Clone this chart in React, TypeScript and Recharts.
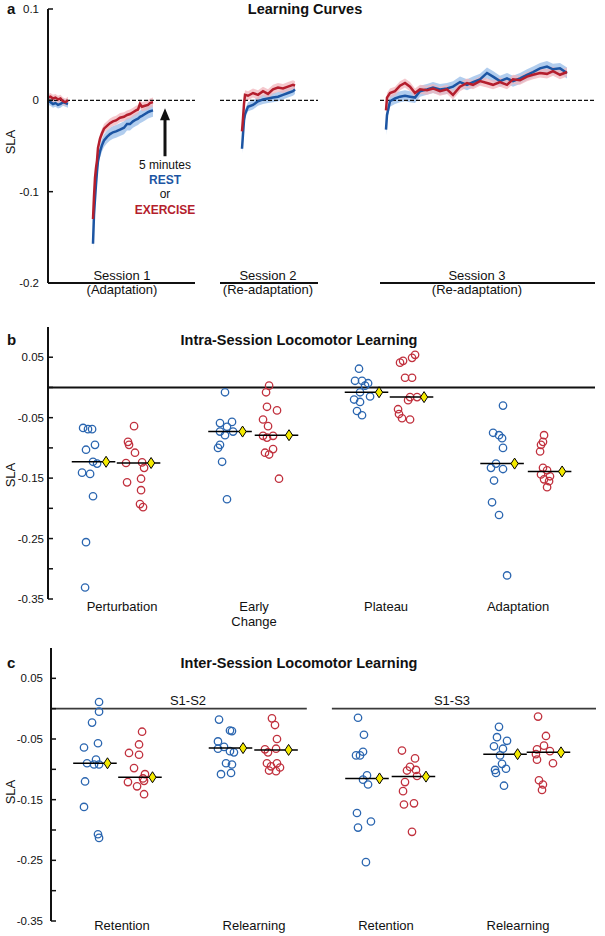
import React from 'react'
import {
  ComposedChart,
  ScatterChart,
  Scatter,
  Line,
  Area,
  XAxis,
  YAxis,
  ReferenceLine,
  ReferenceDot,
} from 'recharts'

const FONT = '"Liberation Sans", Arial, Helvetica, sans-serif'
const INK = '#111'
const REST = '#2b66b0'
const EXERCISE = '#c1313e'
const REST_LINE = '#1c55a3'
const EXERCISE_LINE = '#b41e2d'
const REST_BAND = '#a9c8ec'
const EXERCISE_BAND = '#f2b5bc'

type Pt = [number, number]

// ---------- panel a: learning curves (x = stride, y = SLA)
const s1BaseStrides = [0, 5, 10, 15, 20, 25, 30, 35, 40]
const s1BaseRest = [-0.001, -0.002, -0.004, -0.003, -0.005, -0.004, -0.002, -0.003, -0.004]
const s1BaseExercise = [0.003, 0.004, 0.002, 0.003, 0.001, 0.002, -0.001, -0.002, 0.0]

const s1AdaptStrides = [90, 92, 94, 96, 98, 100, 104, 108, 112, 118, 124, 130, 136, 144, 152, 158, 164, 170, 176, 180, 184, 188, 194, 200, 204, 210]
const s1AdaptRest = [-0.157, -0.125, -0.108, -0.092, -0.078, -0.066, -0.056, -0.049, -0.044, -0.04, -0.037, -0.035, -0.034, -0.032, -0.03, -0.026, -0.026, -0.023, -0.021, -0.02, -0.018, -0.017, -0.015, -0.013, -0.012, -0.011]
const s1AdaptExercise = [-0.13, -0.105, -0.085, -0.074, -0.066, -0.052, -0.042, -0.036, -0.031, -0.028, -0.025, -0.023, -0.022, -0.019, -0.018, -0.016, -0.015, -0.013, -0.011, -0.01, -0.004, -0.007, -0.006, -0.005, -0.003, -0.002]

const s2Strides = [388, 390, 392, 394, 400, 410, 420, 430, 440, 450, 460, 470, 480, 490, 494]
const s2Rest = [-0.053, -0.037, -0.022, -0.015, -0.007, -0.005, -0.001, 0.001, 0.002, 0.003, 0.004, 0.006, 0.008, 0.01, 0.012]
const s2Exercise = [-0.034, -0.02, -0.004, 0.006, 0.005, 0.008, 0.006, 0.01, 0.007, 0.012, 0.014, 0.013, 0.015, 0.017, 0.016]

const s3Strides = [676, 678, 684, 694, 704, 714, 724, 734, 744, 758, 770, 784, 798, 810, 824, 838, 850, 864, 878, 890, 904, 918, 930, 944, 958, 970, 984, 998, 1010, 1024, 1038]
const s3Rest = [-0.032, -0.016, -0.001, 0.002, 0.004, 0.005, 0.004, 0.003, 0.01, 0.012, 0.014, 0.012, 0.013, 0.015, 0.02, 0.017, 0.02, 0.023, 0.03, 0.026, 0.021, 0.024, 0.021, 0.024, 0.028, 0.031, 0.035, 0.037, 0.034, 0.035, 0.03]
const s3Exercise = [-0.011, 0.003, 0.008, 0.01, 0.016, 0.019, 0.015, 0.008, 0.012, 0.011, 0.013, 0.01, 0.012, 0.006, 0.015, 0.019, 0.017, 0.021, 0.019, 0.017, 0.02, 0.017, 0.023, 0.022, 0.026, 0.028, 0.03, 0.029, 0.032, 0.028, 0.031]

// standard error per chunk (baseline, session 1, session 2, session 3)
const restSE = [0.004, 0.007, 0.005, 0.006]
const exerciseSE = [0.004, 0.005, 0.005, 0.005]

const curveTicks = [0.1, 0, -0.1, -0.2]
const sessionSpans: [number, number][] = [[0, 294], [344, 540], [664, 1094]]
const sessionNames = ['Session 1', 'Session 2', 'Session 3']
const sessionPhases = ['(Adaptation)', '(Re-adaptation)', '(Re-adaptation)']
const sessionLabelX = [148, 440, 858]
const breakStride = 234

// ---------- panel b: intra-session learning (x = category + jitter)
const intraCategories = ['Perturbation', 'Early\nChange', 'Plateau', 'Adaptation']
const perturbationRest: Pt[] = [[-0.295, -0.067], [-0.258, -0.069], [-0.227, -0.069], [-0.205, -0.095], [-0.273, -0.103], [-0.22, -0.123], [-0.189, -0.126], [-0.303, -0.141], [-0.242, -0.143], [-0.22, -0.18], [-0.273, -0.256], [-0.28, -0.331]]
const perturbationExercise: Pt[] = [[0.091, -0.064], [0.045, -0.09], [0.053, -0.095], [0.098, -0.108], [0.03, -0.125], [0.152, -0.124], [0.167, -0.133], [0.038, -0.157], [0.144, -0.151], [0.144, -0.17], [0.136, -0.193], [0.159, -0.198]]
const earlyChangeRest: Pt[] = [[0.78, -0.008], [0.742, -0.059], [0.833, -0.057], [0.795, -0.065], [0.841, -0.073], [0.742, -0.073], [0.78, -0.079], [0.742, -0.095], [0.727, -0.1], [0.758, -0.123], [0.795, -0.185]]
const earlyChangeExercise: Pt[] = [[1.114, 0.003], [1.091, -0.008], [1.098, -0.032], [1.174, -0.038], [1.068, -0.053], [1.106, -0.064], [1.068, -0.08], [1.144, -0.08], [1.098, -0.083], [1.083, -0.108], [1.144, -0.102], [1.114, -0.111], [1.189, -0.151]]
const plateauRest: Pt[] = [[1.795, 0.031], [1.765, 0.011], [1.818, 0.011], [1.864, 0.007], [1.841, 0.003], [1.803, -0.008], [1.879, -0.015], [1.758, -0.02], [1.803, -0.024], [1.78, -0.039], [1.818, -0.046]]
const plateauExercise: Pt[] = [[2.22, 0.054], [2.197, 0.049], [2.106, 0.041], [2.129, 0.044], [2.144, 0.016], [2.197, 0.016], [2.182, -0.016], [2.235, -0.016], [2.167, -0.021], [2.091, -0.036], [2.098, -0.044], [2.182, -0.053], [2.121, -0.051]]
const adaptationRest: Pt[] = [[2.886, -0.03], [2.811, -0.075], [2.856, -0.079], [2.879, -0.084], [2.886, -0.1], [2.833, -0.126], [2.795, -0.133], [2.886, -0.135], [2.818, -0.154], [2.803, -0.19], [2.856, -0.211], [2.917, -0.311]]
const adaptationExercise: Pt[] = [[3.197, -0.079], [3.174, -0.095], [3.189, -0.09], [3.167, -0.106], [3.189, -0.133], [3.22, -0.137], [3.174, -0.144], [3.242, -0.147], [3.197, -0.152], [3.235, -0.155], [3.22, -0.165]]
const intraRestMean = [-0.123, -0.073, -0.008, -0.126]
const intraExerciseMean = [-0.125, -0.079, -0.016, -0.139]
const intraRestCenter = [-0.216, 0.818, 1.852, 2.879]
const intraExerciseCenter = [0.125, 1.17, 2.193, 3.239]

// ---------- panel c: inter-session learning
const interCategories = ['Retention', 'Relearning', 'Retention', 'Relearning']
const retention12Rest: Pt[] = [[-0.174, 0.011], [-0.174, -0.005], [-0.227, -0.023], [-0.182, -0.057], [-0.288, -0.064], [-0.197, -0.084], [-0.265, -0.09], [-0.212, -0.092], [-0.174, -0.092], [-0.28, -0.12], [-0.288, -0.162], [-0.182, -0.207], [-0.174, -0.213]]
const retention12Exercise: Pt[] = [[0.152, -0.038], [0.129, -0.059], [0.053, -0.073], [0.129, -0.076], [0.091, -0.098], [0.174, -0.108], [0.159, -0.115], [0.045, -0.121], [0.167, -0.119], [0.114, -0.128], [0.167, -0.141]]
const relearning12Rest: Pt[] = [[0.735, -0.018], [0.818, -0.036], [0.833, -0.037], [0.727, -0.054], [0.773, -0.063], [0.727, -0.066], [0.818, -0.07], [0.848, -0.072], [0.788, -0.09], [0.833, -0.092], [0.75, -0.108], [0.826, -0.106]]
const relearning12Exercise: Pt[] = [[1.136, -0.016], [1.159, -0.027], [1.174, -0.05], [1.083, -0.067], [1.167, -0.066], [1.106, -0.072], [1.098, -0.09], [1.174, -0.09], [1.129, -0.095], [1.197, -0.097], [1.114, -0.102], [1.167, -0.103]]
const retention13Rest: Pt[] = [[1.788, -0.015], [1.833, -0.043], [1.826, -0.071], [1.773, -0.077], [1.803, -0.077], [1.856, -0.11], [1.826, -0.117], [1.864, -0.125], [1.78, -0.172], [1.886, -0.186], [1.788, -0.196], [1.848, -0.253]]
const retention13Exercise: Pt[] = [[2.121, -0.069], [2.22, -0.082], [2.182, -0.096], [2.227, -0.101], [2.159, -0.102], [2.235, -0.111], [2.144, -0.121], [2.129, -0.136], [2.136, -0.158], [2.212, -0.156], [2.197, -0.203]]
const relearning13Rest: Pt[] = [[2.856, -0.03], [2.841, -0.047], [2.917, -0.053], [2.818, -0.062], [2.886, -0.066], [2.864, -0.077], [2.879, -0.091], [2.909, -0.099], [2.826, -0.101], [2.833, -0.106], [2.894, -0.127]]
const relearning13Exercise: Pt[] = [[3.152, -0.013], [3.212, -0.045], [3.197, -0.061], [3.144, -0.067], [3.242, -0.07], [3.136, -0.075], [3.144, -0.084], [3.265, -0.09], [3.159, -0.118], [3.189, -0.125], [3.182, -0.134]]
const interRestMean = [-0.09, -0.065, -0.115, -0.075]
const interExerciseMean = [-0.113, -0.068, -0.112, -0.072]
const interRestCenter = [-0.205, 0.822, 1.856, 2.902]
const interExerciseCenter = [0.136, 1.167, 2.208, 3.231]
const pairNames = ['S1-S2', 'S1-S3']
const pairLabelX = [0.5, 2.5]
const pairSpans: [number, number][] = [[-0.538, 1.4], [1.59, 3.591]]

const slaTicks = [0.05, 0, -0.05, -0.1, -0.15, -0.2, -0.25, -0.3, -0.35]
const slaLabeled = [0.05, -0.05, -0.15, -0.25, -0.35]

const MEAN_HALF = 0.165
const DIAMOND_SHIFT = 0.095

function curve(strides: number[], values: number[], se: number) {
  return strides.map((x, i) => ({ x, v: values[i], band: [values[i] - se, values[i] + se] }))
}

const yTick = (labeled: number[], gap: number, digits: number) => (props: any) => {
  const { x, y, payload } = props
  const v = payload.value as number
  const ax = x + gap
  const show = labeled.some((l) => Math.abs(l - v) < 1e-9)
  return (
    <g>
      <line x1={ax} x2={ax + 5} y1={y} y2={y} stroke={INK} strokeWidth={1.5} />
      {show && (
        <text x={x} y={y + 4} textAnchor="end" fontFamily={FONT} fontSize={11.5} fill={INK}>
          {v === 0 ? '0' : v.toFixed(digits)}
        </text>
      )}
    </g>
  )
}

const catTick = (labels: string[], dy: number) => (props: any) => {
  const { x, y, payload } = props
  const lines = (labels[payload.value] || '').split('\n')
  return (
    <text x={x} y={y + dy} textAnchor="middle" fontFamily={FONT} fontSize={13} fill={INK}>
      {lines.map((l, i) => (
        <tspan key={i} x={x} dy={i === 0 ? 0 : 15}>
          {l}
        </tspan>
      ))}
    </text>
  )
}

const ring = (color: string) => (p: any) => (
  <circle cx={p.cx} cy={p.cy} r={3.7} fill="none" stroke={color} strokeWidth={1.3} />
)
const diamond = (p: any) => (
  <polygon
    points={`${p.cx},${p.cy - 5.5} ${p.cx + 3.6},${p.cy} ${p.cx},${p.cy + 5.5} ${p.cx - 3.6},${p.cy}`}
    fill="#f4ea00"
    stroke="#000"
    strokeWidth={1}
  />
)
const noShape = () => <g />

function groupMarks(key: string, pts: Pt[], mean: number, center: number, color: string) {
  return [
    <Scatter key={key + 'd'} data={pts.map(([x, y]) => ({ x, y }))} shape={ring(color)} isAnimationActive={false} />,
    <Scatter
      key={key + 'm'}
      data={[{ x: center - MEAN_HALF, y: mean }, { x: center + MEAN_HALF, y: mean }]}
      line={{ stroke: '#000', strokeWidth: 1.5 }}
      shape={noShape}
      isAnimationActive={false}
    />,
    <Scatter key={key + 'y'} data={[{ x: center + DIAMOND_SHIFT, y: mean }]} shape={diamond} isAnimationActive={false} />,
  ]
}

const sessionLabel = (top: string, bottom: string) => (props: any) => {
  const { viewBox } = props
  const cx = viewBox.x + viewBox.width / 2
  const cy = viewBox.y + viewBox.height / 2
  return (
    <g fontFamily={FONT} fontSize={13} fill={INK}>
      <text x={cx} y={cy - 3} textAnchor="middle">{top}</text>
      <text x={cx} y={cy + 11} textAnchor="middle">{bottom}</text>
    </g>
  )
}

const arrowHead = (props: any) => {
  const { viewBox } = props
  const cx = viewBox.x + viewBox.width / 2
  const cy = viewBox.y + viewBox.height / 2
  return <polygon points={`${cx},${cy - 11} ${cx + 5},${cy + 1} ${cx - 5},${cy + 1}`} fill={INK} />
}

const breakNote = (props: any) => {
  const { viewBox } = props
  const cx = viewBox.x + viewBox.width / 2
  const cy = viewBox.y + viewBox.height / 2
  return (
    <g fontFamily={FONT} fontSize={12}>
      <text x={cx} y={cy + 13} textAnchor="middle" fill={INK}>5 minutes</text>
      <text x={cx} y={cy + 28} textAnchor="middle" fill={REST_LINE} fontWeight="bold">REST</text>
      <text x={cx} y={cy + 42} textAnchor="middle" fill={INK}>or</text>
      <text x={cx} y={cy + 58} textAnchor="middle" fill={EXERCISE_LINE} fontWeight="bold">EXERCISE</text>
    </g>
  )
}

const pairLabel = (name: string) => (props: any) => {
  const { viewBox } = props
  const cx = viewBox.x + viewBox.width / 2
  const cy = viewBox.y + viewBox.height / 2
  return (
    <text x={cx} y={cy - 4} textAnchor="middle" fontFamily={FONT} fontSize={13} fill={INK}>
      {name}
    </text>
  )
}

function LearningCurves() {
  const rest = [
    curve(s1BaseStrides, s1BaseRest, restSE[0]),
    curve(s1AdaptStrides, s1AdaptRest, restSE[1]),
    curve(s2Strides, s2Rest, restSE[2]),
    curve(s3Strides, s3Rest, restSE[3]),
  ]
  const exercise = [
    curve(s1BaseStrides, s1BaseExercise, exerciseSE[0]),
    curve(s1AdaptStrides, s1AdaptExercise, exerciseSE[1]),
    curve(s2Strides, s2Exercise, exerciseSE[2]),
    curve(s3Strides, s3Exercise, exerciseSE[3]),
  ]
  return (
    <ComposedChart width={605} height={300} margin={{ top: 9, right: 10, bottom: 17, left: 0 }}>
      <XAxis type="number" dataKey="x" domain={[0, 1094]} hide allowDataOverflow />
      <YAxis
        type="number"
        domain={[-0.2, 0.1]}
        ticks={curveTicks}
        interval={0}
        width={48}
        tickSize={0}
        tickMargin={9}
        tickLine={false}
        axisLine={{ stroke: INK, strokeWidth: 2 }}
        tick={yTick(curveTicks, 9, 1)}
        allowDataOverflow
      />
      {sessionSpans.map(([a, b], i) => (
        <ReferenceLine
          key={'zero' + i}
          segment={[{ x: a, y: 0 }, { x: b, y: 0 }]}
          stroke={INK}
          strokeWidth={1.2}
          strokeDasharray="4 2"
          ifOverflow="visible"
        />
      ))}
      {rest.map((d, i) => (
        <Area key={'ra' + i} data={d} dataKey="band" type="linear" stroke="none" fill={REST_BAND} fillOpacity={0.9} isAnimationActive={false} />
      ))}
      {exercise.map((d, i) => (
        <Area key={'ea' + i} data={d} dataKey="band" type="linear" stroke="none" fill={EXERCISE_BAND} fillOpacity={0.75} isAnimationActive={false} />
      ))}
      {rest.map((d, i) => (
        <Line key={'rl' + i} data={d} dataKey="v" type="linear" stroke={REST_LINE} strokeWidth={2.5} dot={false} activeDot={false} isAnimationActive={false} />
      ))}
      {exercise.map((d, i) => (
        <Line key={'el' + i} data={d} dataKey="v" type="linear" stroke={EXERCISE_LINE} strokeWidth={2.5} dot={false} activeDot={false} isAnimationActive={false} />
      ))}
      {sessionSpans.map(([a, b], i) => (
        <ReferenceLine
          key={'base' + i}
          segment={[{ x: a, y: -0.2 }, { x: b, y: -0.2 }]}
          stroke={INK}
          strokeWidth={2}
          ifOverflow="visible"
        />
      ))}
      {sessionNames.map((n, i) => (
        <ReferenceDot
          key={'sl' + i}
          x={sessionLabelX[i]}
          y={-0.2}
          r={0}
          fill="none"
          stroke="none"
          ifOverflow="visible"
          label={sessionLabel(n, sessionPhases[i])}
        />
      ))}
      <ReferenceLine
        segment={[{ x: breakStride, y: -0.0612 }, { x: breakStride, y: -0.0208 }]}
        stroke={INK}
        strokeWidth={3}
        ifOverflow="visible"
      />
      <ReferenceDot x={breakStride} y={-0.0208} r={0} fill="none" stroke="none" ifOverflow="visible" label={arrowHead} />
      <ReferenceDot x={breakStride} y={-0.0612} r={0} fill="none" stroke="none" ifOverflow="visible" label={breakNote} />
    </ComposedChart>
  )
}

function IntraSession() {
  const rest = [perturbationRest, earlyChangeRest, plateauRest, adaptationRest]
  const exercise = [perturbationExercise, earlyChangeExercise, plateauExercise, adaptationExercise]
  return (
    <ScatterChart width={605} height={320} margin={{ top: 17, right: 10, bottom: 0, left: 0 }}>
      <XAxis
        type="number"
        dataKey="x"
        domain={[-0.561, 3.583]}
        ticks={[0, 1, 2, 3]}
        interval={0}
        axisLine={false}
        tickLine={false}
        tickSize={0}
        tickMargin={0}
        height={31}
        tick={catTick(intraCategories, 12)}
        allowDataOverflow
      />
      <YAxis
        type="number"
        dataKey="y"
        domain={[-0.35, 0.1]}
        ticks={slaTicks}
        interval={0}
        width={48}
        tickSize={0}
        tickMargin={4}
        tickLine={false}
        axisLine={{ stroke: INK, strokeWidth: 2 }}
        tick={yTick(slaLabeled, 4, 2)}
        allowDataOverflow
      />
      <ReferenceLine y={0} stroke={INK} strokeWidth={2} ifOverflow="visible" />
      {rest.map((pts, i) => groupMarks('r' + i, pts, intraRestMean[i], intraRestCenter[i], REST))}
      {exercise.map((pts, i) => groupMarks('e' + i, pts, intraExerciseMean[i], intraExerciseCenter[i], EXERCISE))}
    </ScatterChart>
  )
}

function InterSession() {
  const rest = [retention12Rest, relearning12Rest, retention13Rest, relearning13Rest]
  const exercise = [retention12Exercise, relearning12Exercise, retention13Exercise, relearning13Exercise]
  return (
    <ScatterChart width={605} height={306} margin={{ top: 18, right: 9, bottom: 0, left: 0 }}>
      <XAxis
        type="number"
        dataKey="x"
        domain={[-0.538, 3.591]}
        ticks={[0, 1, 2, 3]}
        interval={0}
        axisLine={false}
        tickLine={false}
        tickSize={0}
        tickMargin={0}
        height={15}
        tick={catTick(interCategories, 9)}
        allowDataOverflow
      />
      <YAxis
        type="number"
        dataKey="y"
        domain={[-0.35, 0.1]}
        ticks={slaTicks}
        interval={0}
        width={51}
        tickSize={0}
        tickMargin={8}
        tickLine={false}
        axisLine={{ stroke: INK, strokeWidth: 2 }}
        tick={yTick(slaLabeled, 8, 2)}
        allowDataOverflow
      />
      {pairSpans.map(([a, b], i) => (
        <ReferenceLine
          key={'pair' + i}
          segment={[{ x: a, y: 0 }, { x: b, y: 0 }]}
          stroke="#3a3a3a"
          strokeWidth={1.6}
          ifOverflow="visible"
        />
      ))}
      {pairNames.map((n, i) => (
        <ReferenceDot key={'pl' + i} x={pairLabelX[i]} y={0} r={0} fill="none" stroke="none" ifOverflow="visible" label={pairLabel(n)} />
      ))}
      {rest.map((pts, i) => groupMarks('r' + i, pts, interRestMean[i], interRestCenter[i], REST))}
      {exercise.map((pts, i) => groupMarks('e' + i, pts, interExerciseMean[i], interExerciseCenter[i], EXERCISE))}
    </ScatterChart>
  )
}

export default function App() {
  const title = { fontFamily: FONT, fontWeight: 'bold' as const, fill: INK }
  return (
    <div style={{ position: 'relative', width: 605, height: 936, background: '#fff', overflow: 'hidden' }}>
      <style>{'body{margin:0}'}</style>
      <div style={{ position: 'absolute', left: 0, top: 0 }}>
        <LearningCurves />
      </div>
      <div style={{ position: 'absolute', left: 0, top: 310 }}>
        <IntraSession />
      </div>
      <div style={{ position: 'absolute', left: 0, top: 630 }}>
        <InterSession />
      </div>
      <svg width={605} height={936} style={{ position: 'absolute', left: 0, top: 0, pointerEvents: 'none' }}>
        <text x={7} y={14} fontSize={15} {...title}>a</text>
        <text x={305} y={14} fontSize={14.5} textAnchor="middle" {...title}>Learning Curves</text>
        <text x={7} y={345} fontSize={15} {...title}>b</text>
        <text x={299} y={345} fontSize={14.5} textAnchor="middle" {...title}>Intra-Session Locomotor Learning</text>
        <text x={7} y={668} fontSize={15} {...title}>c</text>
        <text x={299} y={668} fontSize={14.5} textAnchor="middle" {...title}>Inter-Session Locomotor Learning</text>
        {[142, 475, 792].map((cy) => (
          <text key={cy} x={15} y={cy} transform={`rotate(-90 15 ${cy})`} textAnchor="middle" fontFamily={FONT} fontSize={13} fill={INK}>
            SLA
          </text>
        ))}
      </svg>
    </div>
  )
}
